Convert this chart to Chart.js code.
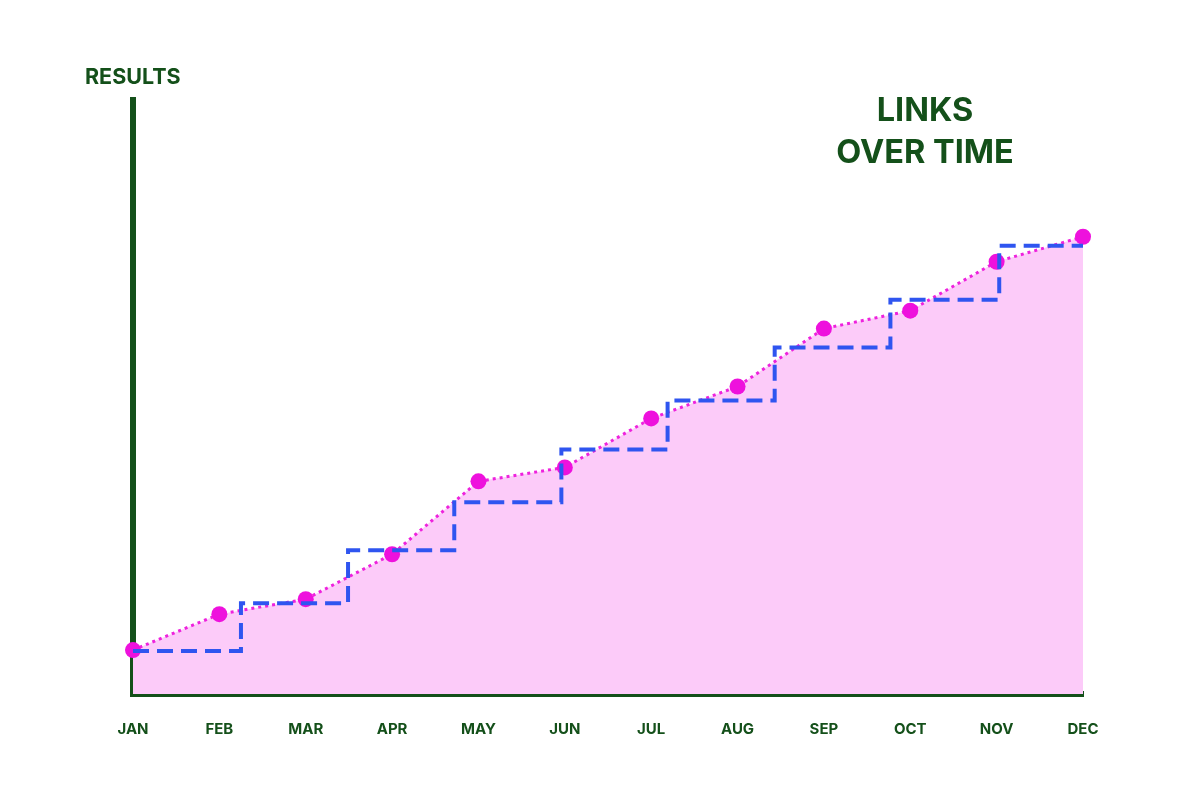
<!DOCTYPE html>
<html>
<head>
<meta charset="utf-8">
<script src="https://cdn.jsdelivr.net/npm/chart.js@4/dist/chart.umd.min.js"></script>
<style>
  body { margin: 0; background: #fff; font-family: Inter, "Open Sans", sans-serif; }
  #wrap { position: relative; width: 1200px; height: 800px; }
  .lbl { position: absolute; color: #14501a; font-weight: 700; }
  #results { left: 85px; top: 63px; font-size: 21.5px; }
  #title { left: 800px; top: 89px; width: 250px; text-align: center; font-size: 32.5px; line-height: 42px; }
</style>
</head>
<body>
<div id="wrap">
  <canvas id="chart" width="1200" height="800"></canvas>
  <div class="lbl" id="results">RESULTS</div>
  <div class="lbl" id="title">LINKS<br>OVER TIME</div>
</div>
<script>
// ===== DATA =====
const months = ["JAN", "FEB", "MAR", "APR", "MAY", "JUN", "JUL", "AUG", "SEP", "OCT", "NOV", "DEC"];
const linkValues = [44, 80, 95, 140, 213, 227, 276, 308, 366, 384, 433, 458];
const stepX = [0, 1.25, 2.49, 3.72, 4.96, 6.19, 7.43, 8.77, 10.03, 11];
const stepValues = [43, 91, 144, 192, 245, 294, 347, 395, 449, 449];

const green = "#14501a";

new Chart(document.getElementById("chart"), {
    type: "line",
    data: {
        datasets: [
            {
                label: "Steps",
                data: stepX.map((x, i) => ({ x: x, y: stepValues[i] })),
                stepped: "before",
                borderColor: "#2f55f0",
                borderWidth: 4,
                borderDash: [16, 8],
                pointRadius: 0,
                fill: false,
                clip: false,
                order: 1
            },
            {
                label: "Links",
                data: linkValues.map((v, i) => ({ x: i, y: v })),
                borderColor: "#ee22dd",
                borderWidth: 3,
                borderDash: [3, 4],
                backgroundColor: "#fccbf9",
                pointBackgroundColor: "#ee11dd",
                pointBorderWidth: 0,
                pointRadius: 8,
                fill: "origin",
                tension: 0,
                clip: false,
                order: 2
            }
        ]
    },
    options: {
        responsive: false,
        animation: false,
        layout: { padding: { left: 125, right: 117, top: 100, bottom: 44 } },
        plugins: { legend: { display: false }, tooltip: { enabled: false } },
        scales: {
            x: {
                type: "linear", min: 0, max: 11,
                grid: { display: false },
                border: { color: green, width: 6 },
                ticks: {
                    stepSize: 1, padding: 18, color: green,
                    font: { family: "Inter", weight: "bold", size: 15 },
                    callback: v => months[v]
                }
            },
            y: {
                min: 0, max: 595,
                grid: { display: false },
                border: { color: green, width: 6 },
                ticks: { display: false }
            }
        }
    }
});
</script>
</body>
</html>
